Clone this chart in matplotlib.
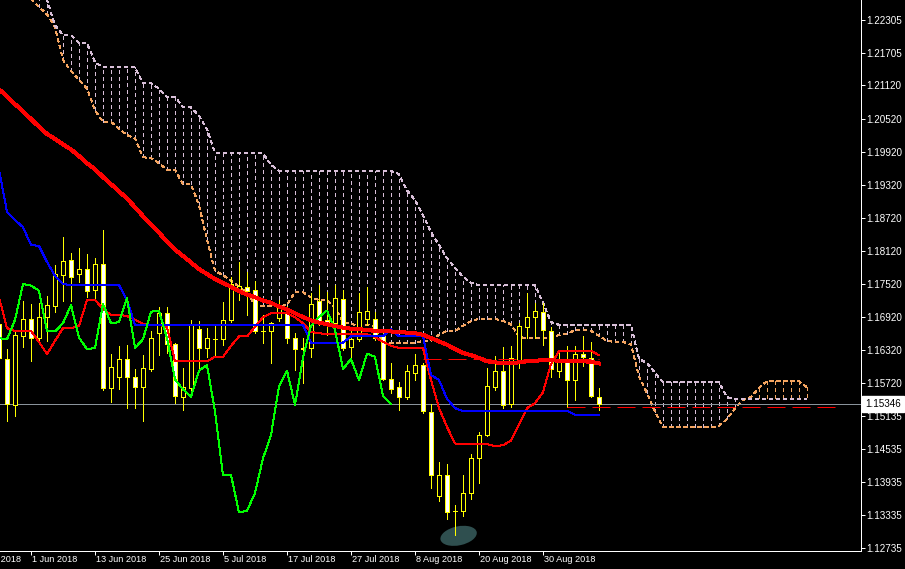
import numpy as np
import matplotlib
matplotlib.use('Agg')
import matplotlib.pyplot as plt
from matplotlib.patches import Rectangle, Ellipse
from matplotlib.transforms import Affine2D, ScaledTranslation

plt.rcParams['lines.scale_dashes'] = False
plt.rcParams['font.family'] = ['Liberation Sans', 'DejaVu Sans']

# EURUSD daily candles, bar 0 = 28 May 2018 ... bar 75 = 10 Sep 2018
opens = [1.1680, 1.1617, 1.1533, 1.1658, 1.1688, 1.1654, 1.1693, 1.1713, 1.1769, 1.1796,
         1.1770, 1.1779, 1.1741, 1.1788, 1.1563, 1.1584, 1.1617, 1.1584, 1.1566, 1.1598,
         1.1663, 1.1699, 1.1643, 1.1548, 1.1564, 1.1670, 1.1636, 1.1653, 1.1652, 1.1686,
         1.1740, 1.1747, 1.1741, 1.1667, 1.1666, 1.1690, 1.1699, 1.1654, 1.1635, 1.1636,
         1.1722, 1.1687, 1.1682, 1.1725, 1.1637, 1.1652, 1.1688, 1.1688, 1.1657, 1.1579,
         1.1565, 1.1547, 1.1591, 1.1605, 1.1520, 1.1368, 1.1406, 1.1340, 1.1340, 1.1373,
         1.1436, 1.1479, 1.1566, 1.1595, 1.1535, 1.1613, 1.1674, 1.1692, 1.1702, 1.1667,
         1.1595, 1.1616, 1.1578, 1.1626, 1.1618, 1.1547]
highs = [1.1690, 1.1634, 1.1669, 1.1721, 1.1716, 1.1718, 1.1731, 1.1787, 1.1837, 1.1808,
         1.1817, 1.1806, 1.1799, 1.1850, 1.1625, 1.1639, 1.1641, 1.1598, 1.1623, 1.1666,
         1.1711, 1.1710, 1.1645, 1.1599, 1.1686, 1.1685, 1.1672, 1.1680, 1.1720, 1.1765,
         1.1792, 1.1774, 1.1757, 1.1696, 1.1684, 1.1723, 1.1712, 1.1663, 1.1654, 1.1735,
         1.1750, 1.1738, 1.1750, 1.1741, 1.1666, 1.1735, 1.1747, 1.1702, 1.1669, 1.1608,
         1.1575, 1.1605, 1.1625, 1.1609, 1.1535, 1.1430, 1.1426, 1.1352, 1.1406, 1.1444,
         1.1483, 1.1599, 1.1622, 1.1637, 1.1639, 1.1681, 1.1735, 1.1717, 1.1717, 1.1675,
         1.1630, 1.1640, 1.1640, 1.1657, 1.1647, 1.1563]
lows = [1.1611, 1.1504, 1.1513, 1.1637, 1.1613, 1.1648, 1.1649, 1.1701, 1.1721, 1.1721,
        1.1755, 1.1729, 1.1723, 1.1560, 1.1539, 1.1561, 1.1527, 1.1528, 1.1504, 1.1594,
        1.1623, 1.1627, 1.1537, 1.1524, 1.1560, 1.1598, 1.1619, 1.1623, 1.1641, 1.1683,
        1.1723, 1.1695, 1.1663, 1.1645, 1.1608, 1.1685, 1.1645, 1.1596, 1.1573, 1.1620,
        1.1678, 1.1660, 1.1676, 1.1632, 1.1614, 1.1648, 1.1678, 1.1651, 1.1578, 1.1554,
        1.1524, 1.1543, 1.1578, 1.1518, 1.1382, 1.1359, 1.1326, 1.1297, 1.1332, 1.1363,
        1.1391, 1.1477, 1.1560, 1.1527, 1.1530, 1.1600, 1.1655, 1.1654, 1.1641, 1.1583,
        1.1583, 1.1529, 1.1542, 1.1603, 1.1547, 1.1524]
closes = [1.1618, 1.1534, 1.1660, 1.1688, 1.1654, 1.1692, 1.1714, 1.1770, 1.1794, 1.1765,
          1.1779, 1.1740, 1.1788, 1.1563, 1.1601, 1.1617, 1.1584, 1.1566, 1.1599, 1.1654,
          1.1699, 1.1643, 1.1549, 1.1565, 1.1680, 1.1636, 1.1654, 1.1652, 1.1687, 1.1752,
          1.1749, 1.1740, 1.1666, 1.1666, 1.1681, 1.1714, 1.1655, 1.1634, 1.1636, 1.1716,
          1.1681, 1.1683, 1.1726, 1.1636, 1.1652, 1.1702, 1.1703, 1.1654, 1.1579, 1.1561,
          1.1548, 1.1595, 1.1605, 1.1521, 1.1405, 1.1406, 1.1338, 1.1341, 1.1373, 1.1436,
          1.1478, 1.1567, 1.1595, 1.1533, 1.1618, 1.1676, 1.1692, 1.1704, 1.1669, 1.1598,
          1.1616, 1.1578, 1.1626, 1.1620, 1.1549, 1.15346]

# Ichimoku lines
tenkan = [1.1728, 1.1672, 1.1667, 1.1667, 1.1667, 1.1647, 1.1625, 1.1649, 1.1672, 1.1672,
          1.1676, 1.1723, 1.1723, 1.1707, 1.1696, 1.1696, 1.1694, 1.1687, 1.1680, 1.1678,
          1.1678, 1.1674, 1.1612, 1.1612, 1.1612, 1.1612, 1.1612, 1.1620, 1.1620, 1.1640,
          1.1657, 1.1657, 1.1674, 1.1692, 1.1699, 1.1699, 1.1699, 1.1692, 1.1681, 1.1665,
          1.1663, 1.1661, 1.1661, 1.1661, 1.1661, 1.1661, 1.1661, 1.1656, 1.1647, 1.1640,
          1.1636, 1.1636, 1.1636, 1.1636, 1.1578, 1.1527, 1.1493, 1.1463, 1.1462, 1.1462,
          1.1462, 1.1462, 1.1458, 1.1460, 1.1468, 1.1498, 1.1527, 1.1536, 1.1556, 1.1607,
          1.1630, 1.1631, 1.1631, 1.1631, 1.1631, 1.1623]
kijun = [1.1959, 1.1883, 1.1868, 1.1855, 1.1823, 1.1821, 1.1792, 1.1767, 1.1752, 1.1750,
         1.1750, 1.1750, 1.1750, 1.1750, 1.1750, 1.1750, 1.1723, 1.1678, 1.1678, 1.1678,
         1.1678, 1.1678, 1.1678, 1.1678, 1.1678, 1.1678, 1.1678, 1.1678, 1.1678, 1.1678,
         1.1678, 1.1678, 1.1678, 1.1678, 1.1678, 1.1678, 1.1678, 1.1678, 1.1678, 1.1646,
         1.1646, 1.1646, 1.1646, 1.1646, 1.1657, 1.1657, 1.1657, 1.1657, 1.1657, 1.1670,
         1.1657, 1.1657, 1.1657, 1.1657, 1.1587, 1.1578, 1.1544, 1.1527, 1.1522, 1.1522,
         1.1522, 1.1522, 1.1522, 1.1522, 1.1522, 1.1522, 1.1522, 1.1522, 1.1522, 1.1522,
         1.1522, 1.1522, 1.1515, 1.1515, 1.1515, 1.1515]
# senkou spans, already shifted 26 bars ahead (index 0 = bar 0, last = bar 101)
span_a = [1.2321, 1.2307, 1.2294, 1.2281, 1.2269, 1.2254, 1.2241, 1.2218, 1.2158, 1.2138,
          1.2122, 1.2106, 1.2067, 1.2046, 1.2046, 1.2033, 1.2022, 1.2016, 1.1982, 1.1980,
          1.1971, 1.1959, 1.1959, 1.1933, 1.1933, 1.1895, 1.1832, 1.1776, 1.1768, 1.1758,
          1.1747, 1.1736, 1.1714, 1.1712, 1.1712, 1.1712, 1.1714, 1.1738, 1.1737, 1.1728,
          1.1723, 1.1723, 1.1709, 1.1683, 1.1679, 1.1678, 1.1678, 1.1676, 1.1645, 1.1645,
          1.1645, 1.1645, 1.1645, 1.1649, 1.1649, 1.1660, 1.1667, 1.1667, 1.1676, 1.1685,
          1.1689, 1.1689, 1.1689, 1.1685, 1.1679, 1.1656, 1.1654, 1.1654, 1.1654, 1.1654,
          1.1660, 1.1661, 1.1669, 1.1669, 1.1667, 1.1658, 1.1649, 1.1647, 1.1647, 1.1643,
          1.1585, 1.1554, 1.1520, 1.1493, 1.1492, 1.1492, 1.1492, 1.1492, 1.1492, 1.1492,
          1.1495, 1.1507, 1.1527, 1.1542, 1.1547, 1.1564, 1.1576, 1.1576, 1.1576, 1.1576,
          1.1576, 1.1565]
span_b = [1.2376, 1.2357, 1.2339, 1.2321, 1.2303, 1.2285, 1.2267, 1.2221, 1.2203, 1.2203,
          1.2189, 1.2189, 1.2154, 1.2145, 1.2145, 1.2145, 1.2145, 1.2145, 1.2116, 1.2116,
          1.2106, 1.2091, 1.2091, 1.2073, 1.2072, 1.2057, 1.2033, 1.1990, 1.1989, 1.1989,
          1.1989, 1.1989, 1.1989, 1.1989, 1.1968, 1.1957, 1.1957, 1.1957, 1.1957, 1.1957,
          1.1957, 1.1957, 1.1957, 1.1957, 1.1957, 1.1957, 1.1957, 1.1957, 1.1957, 1.1957,
          1.1951, 1.1922, 1.1904, 1.1877, 1.1846, 1.1823, 1.1799, 1.1781, 1.1765, 1.1754,
          1.1750, 1.1750, 1.1750, 1.1750, 1.1750, 1.1750, 1.1750, 1.1750, 1.1718, 1.1683,
          1.1678, 1.1678, 1.1678, 1.1678, 1.1678, 1.1678, 1.1678, 1.1678, 1.1678, 1.1678,
          1.1616, 1.1609, 1.1591, 1.1574, 1.1574, 1.1574, 1.1574, 1.1574, 1.1574, 1.1574,
          1.1574, 1.1547, 1.1543, 1.1543, 1.1543, 1.1543, 1.1543, 1.1543, 1.1543, 1.1543,
          1.1543, 1.1543]
chikou_shift = 26

# thick moving average
ma = [1.2105, 1.2092, 1.2078, 1.2065, 1.2051, 1.2037, 1.2024, 1.2015, 1.2005, 1.1996,
      1.1984, 1.1971, 1.1960, 1.1946, 1.1933, 1.1920, 1.1907, 1.1891, 1.1875, 1.1860,
      1.1845, 1.1829, 1.1814, 1.1803, 1.1791, 1.1779, 1.1770, 1.1761, 1.1754, 1.1747,
      1.1739, 1.1733, 1.1728, 1.1722, 1.1718, 1.1711, 1.1706, 1.1699, 1.1692, 1.1686,
      1.1682, 1.1679, 1.1676, 1.1673, 1.1671, 1.1670, 1.1669, 1.1667, 1.1666, 1.1666,
      1.1665, 1.1664, 1.1663, 1.1660, 1.1654, 1.1648, 1.1642, 1.1634, 1.1627, 1.1623,
      1.1618, 1.1612, 1.1610, 1.1609, 1.1609, 1.1610, 1.1612, 1.1613, 1.1614, 1.1614,
      1.1613, 1.1612, 1.1612, 1.1612, 1.1611, 1.1608]

bid = 1.15346
level_hi, level_hi_bars = 1.1616, (53, 75)
level_lo, level_lo_bars = 1.1529, (71, 104.9)
mark_bar, mark_price = 57.45, 1.12956

price_ticks = [1.22305, 1.21705, 1.21120, 1.20520, 1.19920, 1.19320, 1.18720, 1.18120,
               1.17520, 1.16920, 1.16320, 1.15720, 1.15135, 1.14535, 1.13935, 1.13335, 1.12735]
date_ticks = [-4, 4, 12, 20, 28, 36, 44, 52, 60, 68]
date_labels = ['22 May 2018', '1 Jun 2018', '13 Jun 2018', '25 Jun 2018', '5 Jul 2018',
               '17 Jul 2018', '27 Jul 2018', '8 Aug 2018', '20 Aug 2018', '30 Aug 2018']

PX = 0.72  # one screen pixel in points at dpi 100
DOT = (0, (4 * PX, 3 * PX))

fig = plt.figure(figsize=(9.05, 5.69), dpi=100, facecolor='black')
ax = fig.add_axes([0, 18 / 569, 861 / 905, 551 / 569], facecolor='black')
ax.set_xlim(0.125, 107.75)
ax.set_ylim(1.12681, 1.22668)

# cloud
k = np.arange(len(span_a))
a = np.array(span_a)
b = np.array(span_b)
hatch_colors = np.where(b >= a, 'thistle', 'sandybrown')
ax.vlines(k, a, b, colors=hatch_colors, lw=PX, linestyles=DOT, zorder=1, antialiased=False)
ax.plot(k, a, color='sandybrown', lw=PX, ls=DOT, zorder=1.1, antialiased=False)
ax.plot(k, b, color='thistle', lw=PX, ls=DOT, zorder=1.1, antialiased=False)

# marker blob under the low
blob_tr = Affine2D() + ScaledTranslation(mark_bar, mark_price, ax.transData)
ax.add_patch(Ellipse((0, 0), 37, 19, angle=12, transform=blob_tr,
                     fc='darkslategray', ec='none', zorder=1.5))

# bid line
ax.axhline(bid, color='#8a939b', lw=PX, zorder=2, antialiased=False)

# candles
for i in range(len(opens)):
    o, h, l, c = opens[i], highs[i], lows[i], closes[i]
    ax.vlines(i, l, h, color='yellow', lw=PX, zorder=3, antialiased=False)
    ax.add_patch(Rectangle((i - 0.28, min(o, c)), 0.56, abs(c - o),
                           fc='black' if c >= o else 'white', ec='yellow',
                           lw=PX, zorder=3.5, antialiased=False))

x = np.arange(len(closes))
ax.plot(np.arange(len(tenkan)), tenkan, color='red', lw=PX, zorder=4, antialiased=False)
ax.plot(np.arange(len(kijun)), kijun, color='blue', lw=PX, zorder=4, antialiased=False)
ax.plot(x - chikou_shift, closes, color='lime', lw=PX, zorder=4, antialiased=False)
ax.plot(np.arange(len(ma)), ma, color='red', lw=3 * PX, zorder=5, antialiased=False)

ax.hlines(level_hi, *level_hi_bars, color='red', lw=PX, linestyles=(0, (18 * PX, 7 * PX)), zorder=4)
ax.hlines(level_lo, *level_lo_bars, color='red', lw=PX, linestyles=(0, (18 * PX, 7 * PX)), zorder=4)

# axes styling
for s in ['top', 'left']:
    ax.spines[s].set_visible(False)
for s in ['right', 'bottom']:
    ax.spines[s].set_color('white')
    ax.spines[s].set_linewidth(PX)
ax.yaxis.tick_right()
ax.set_yticks(price_ticks)
ax.set_yticklabels([f'{v:.5f}' for v in price_ticks])
ax.tick_params(axis='y', colors='white', length=4 * PX, width=PX, pad=0.6, labelsize=7.1)
ax.set_xticks([t for t in date_ticks if t >= 0])
ax.set_xticklabels([])
ax.tick_params(axis='x', colors='white', length=4 * PX, width=PX)

for t, lab in zip(date_ticks, date_labels):
    ax.annotate(lab, xy=(t, 0), xycoords=('data', 'axes fraction'), xytext=(1, -9),
                textcoords='offset pixels', ha='left', va='center', color='white',
                fontsize=6.6, annotation_clip=False)

ax.annotate(f'{bid:.5f}', xy=(1, bid), xycoords=('axes fraction', 'data'), xytext=(4, 0),
            textcoords='offset pixels', ha='left', va='center', color='black', fontsize=7.1,
            bbox=dict(boxstyle='square,pad=0.3', fc='white', ec='white'), zorder=10,
            annotation_clip=False)

fig.savefig('out.png', dpi=100, facecolor='black')
